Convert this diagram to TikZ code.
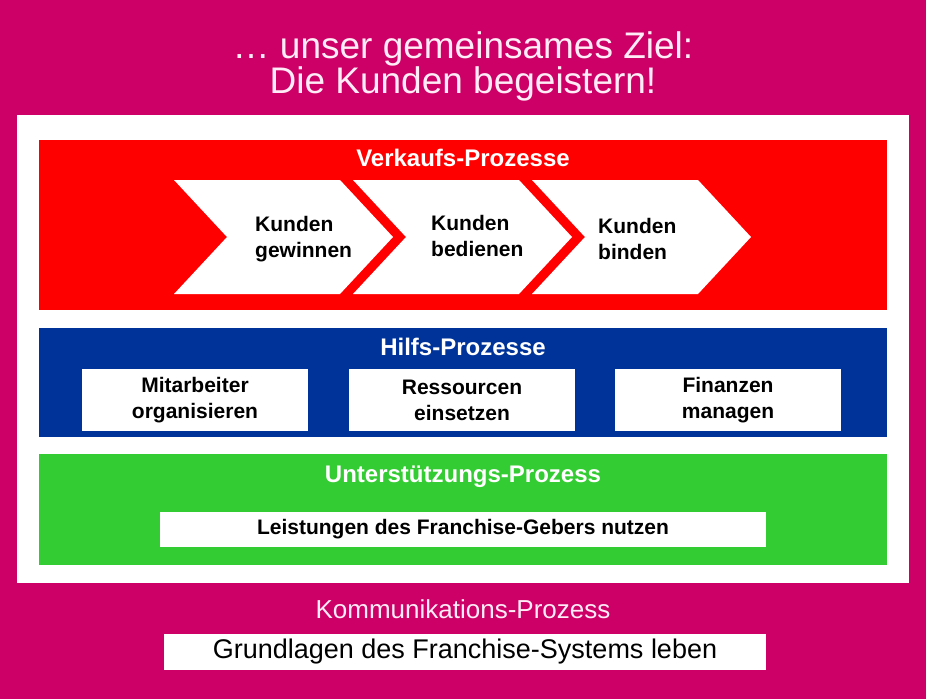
\documentclass[tikz,border=0pt]{standalone}
\usepackage{fontspec}
\setmainfont{Liberation Sans}
\usetikzlibrary{positioning}

\definecolor{zielmagenta}{RGB}{204,0,102}
\definecolor{vkrot}{RGB}{255,0,0}
\definecolor{hpblau}{RGB}{0,51,153}
\definecolor{upgruen}{RGB}{51,204,51}
\definecolor{hellrosa}{RGB}{255,236,246}

\begin{document}
\begin{tikzpicture}[x=1pt, y=-1pt,
  % Baender
  band/.style={minimum width=848pt, minimum height=#1, inner sep=0pt,
               anchor=north west, outer sep=0pt},
  bandtitel/.style={anchor=base, text=white, inner sep=0pt,
                    font=\fontsize{24}{28}\selectfont\bfseries},
  % Kaesten und Pfeile
  kasten/.style={fill=white, minimum width=226pt, minimum height=62pt, inner sep=0pt,
                 align=center, font=\fontsize{21}{26}\selectfont\bfseries},
  pfeiltext/.style={anchor=west, align=left, inner sep=0pt,
                    font=\fontsize{21}{26}\selectfont\bfseries},
  pfeil/.style={fill=white},
]

% === Hintergrund ===
\fill[zielmagenta] (0,0) rectangle (926,699);
\useasboundingbox (0,0) rectangle (926,699);

% === Ziel ===
\node[anchor=base, text=hellrosa, inner sep=0pt, font=\fontsize{37}{44}\selectfont]
  (ziel1) at (463,58) {\dots{} unser gemeinsames Ziel:};
\node[anchor=base, text=hellrosa, inner sep=0pt, font=\fontsize{37}{44}\selectfont]
  (ziel2) at (463,93) {Die Kunden begeistern!};

% === Weisses Feld ===
\node[fill=white, minimum width=892pt, minimum height=468pt, inner sep=0pt,
      anchor=north west] (feld) at (17,115) {};

% === Verkaufs-Prozesse ===
\node[band=170pt, fill=vkrot] (verkauf) at (39,140) {};
\node[bandtitel] (verkaufT) at (463,166) {Verkaufs-Prozesse};

\fill[pfeil] (174,180) -- ++(166,0) -- ++(53,57) -- ++(-53,57) -- ++(-166,0) -- ++(53,-57) -- cycle;
\fill[pfeil] (353,180) -- ++(166,0) -- ++(53,57) -- ++(-53,57) -- ++(-166,0) -- ++(53,-57) -- cycle;
\fill[pfeil] (532,180) -- ++(166,0) -- ++(53,57) -- ++(-53,57) -- ++(-166,0) -- ++(53,-57) -- cycle;

\node[pfeiltext] (gewinnen) at (255,239) {Kunden\\gewinnen};
\node[pfeiltext] (bedienen) at (431,236) {Kunden\\bedienen};
\node[pfeiltext] (binden)   at (598,239) {Kunden\\binden};

% === Hilfs-Prozesse ===
\node[band=109pt, fill=hpblau] (hilfs) at (39,328) {};
\node[bandtitel] (hilfsT) at (463,355) {Hilfs-Prozesse};

\node[kasten] (mitarbeiter) at (195,400) {Mitarbeiter\\organisieren};
\node[kasten] (ressourcen)  at (462,400) {Ressourcen\\einsetzen};
\node[kasten] (finanzen)    at (728,400) {Finanzen\\managen};

% === Unterstuetzungs-Prozess ===
\node[band=111pt, fill=upgruen] (unterst) at (39,454) {};
\node[bandtitel] (unterstT) at (463,482) {Unterstützungs-Prozess};

\node[kasten, minimum width=606pt, minimum height=35pt] (leistungen) at (463,529.5)
  {Leistungen des Franchise-Gebers nutzen};

% === Kommunikations-Prozess ===
\node[anchor=base, text=hellrosa, inner sep=0pt, font=\fontsize{26}{30}\selectfont]
  (kommT) at (463,618) {Kommunikations-Prozess};
\node[fill=white, minimum width=602pt, minimum height=36pt, inner sep=0pt,
      font=\fontsize{27}{30}\selectfont] (grundlagen) at (465,652)
  {Grundlagen des Franchise-Systems leben};

\end{tikzpicture}
\end{document}
